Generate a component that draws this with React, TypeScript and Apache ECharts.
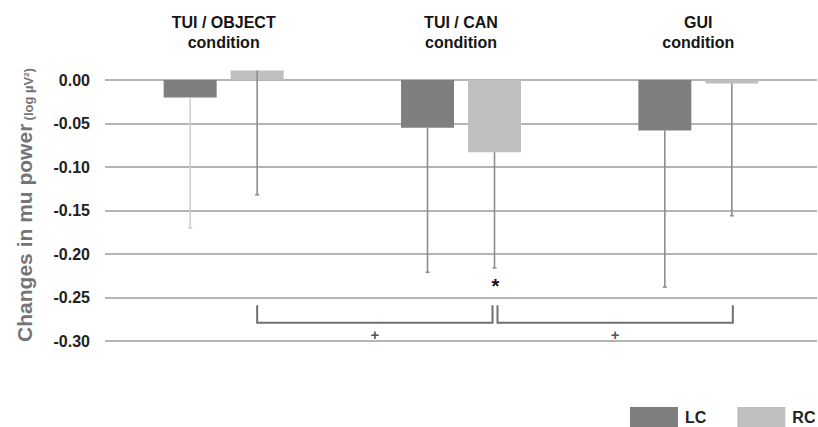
import React, { useEffect, useRef } from "react";
import * as echarts from "echarts";

const CATEGORIES = ["TUI / OBJECT\ncondition", "TUI / CAN\ncondition", "GUI\ncondition"];
const SERIES_NAMES = ["LC", "RC"];
const LC_MEAN = [-0.02, -0.055, -0.058];
const RC_MEAN = [0.011, -0.083, -0.004];
const LC_LOWER = [-0.17, -0.221, -0.238];
const RC_LOWER = [-0.132, -0.216, -0.156];
const Y_TICKS = { min: -0.3, max: 0, interval: 0.05 };
// comparisons between RC bars of categories
const BRACKETS = [
  [0, 1],
  [1, 2],
];
const BRACKET_LABELS = ["+", "+"];
const BRACKET_TOP = -0.259;
const BRACKET_BOTTOM = -0.279;
const BRACKET_LABEL_LEVEL = -0.292;
const STAR_MARKS = [[1, -0.233]]; // [category, level] over RC bar
const STAR_LABEL = "*";

const FONT = "'Liberation Sans', Arial, sans-serif";
const BAR_W = 53;
const BAR_GAP = 14;
const OFFSET = (BAR_W + BAR_GAP) / 2;

export default function App() {
  const ref = useRef<HTMLDivElement>(null);
  useEffect(() => {
    if (!ref.current) return;
    const chart = echarts.init(ref.current, undefined, { renderer: "svg" });

    const errSeries = (name: string, mean: number[], lower: number[], sign: number) => ({
      type: "custom",
      name: name + "_err",
      clip: false,
      z: 5,
      data: mean.map((m, i) => [i, m, lower[i]]),
      encode: { x: 0, y: [1, 2] },
      renderItem: (params: any, api: any) => {
        const c = api.value(0);
        const p1 = api.coord([c, api.value(1)]);
        const p2 = api.coord([c, api.value(2)]);
        const x = p1[0] + sign * OFFSET;
        const light = sign < 0 && params.dataIndex === 0;
        const stroke = light ? "#cfcfcf" : "#8e8e8e";
        return {
          type: "group",
          children: [
            { type: "line", shape: { x1: x, y1: p1[1], x2: x, y2: p2[1] }, style: { stroke, lineWidth: 1.6 } },
            { type: "line", shape: { x1: x - 2, y1: p2[1], x2: x + 2, y2: p2[1] }, style: { stroke, lineWidth: 1.6 } },
          ],
        };
      },
    });

    const option: any = {
      animation: false,
      grid: { left: 105, right: 1, top: 80, bottom: 86 },
      legend: {
        data: SERIES_NAMES,
        left: 630,
        top: 407,
        width: 200,
        padding: 0,
        itemWidth: 48,
        itemHeight: 20,
        itemGap: 31,
        icon: "rect",
        textStyle: { fontFamily: FONT, fontSize: 16, fontWeight: "bold", color: "#222", padding: [0, 0, 0, 2] },
      },
      xAxis: {
        type: "category",
        position: "top",
        data: CATEGORIES,
        axisLine: { show: false },
        axisTick: { show: false },
        axisLabel: {
          interval: 0,
          margin: 28,
          fontFamily: FONT,
          fontSize: 16,
          fontWeight: "bold",
          lineHeight: 20,
          color: "#151515",
        },
      },
      yAxis: {
        type: "value",
        min: Y_TICKS.min,
        max: Y_TICKS.max,
        interval: Y_TICKS.interval,
        axisLine: { show: false },
        axisTick: { show: false },
        splitLine: { lineStyle: { color: "#b4b4b4", width: 2 } },
        axisLabel: {
          margin: 15,
          fontFamily: FONT,
          fontSize: 16,
          fontWeight: "bold",
          color: "#222",
          formatter: (v: number) => v.toFixed(2),
        },
      },
      graphic: [
        {
          type: "text",
          x: 24,
          y: 205,
          rotation: Math.PI / 2,
          style: {
            text: "{a|Changes in mu power} {b|(log µV²)}",
            align: "center",
            verticalAlign: "middle",
            fill: "#747474",
            rich: {
              a: { fontFamily: FONT, fontSize: 21, fontWeight: "bold", fill: "#747474", color: "#747474", verticalAlign: "bottom", lineHeight: 22 },
              b: { fontFamily: FONT, fontSize: 13, fontWeight: "bold", fill: "#747474", color: "#747474", verticalAlign: "bottom", lineHeight: 22 },
            },
          },
        },
      ],
      series: [
        {
          type: "bar",
          name: "LC",
          data: LC_MEAN,
          barWidth: BAR_W,
          barGap: (BAR_GAP / BAR_W) * 100 + "%",
          clip: false,
          itemStyle: { color: "#7f7f7f" },
        },
        {
          type: "bar",
          name: "RC",
          data: RC_MEAN,
          barWidth: BAR_W,
          clip: false,
          itemStyle: { color: "#bfbfbf" },
        },
        errSeries("LC", LC_MEAN, LC_LOWER, -1),
        errSeries("RC", RC_MEAN, RC_LOWER, 1),
        {
          type: "custom",
          name: "brackets",
          clip: false,
          z: 6,
          data: BRACKETS.map((b, i) => [b[0], b[1], i]),
          renderItem: (params: any, api: any) => {
            const a = api.coord([api.value(0), BRACKET_TOP]);
            const b = api.coord([api.value(1), BRACKET_TOP]);
            const bot = api.coord([api.value(0), BRACKET_BOTTOM])[1];
            const lab = api.coord([api.value(0), BRACKET_LABEL_LEVEL])[1];
            const x1 = a[0] + OFFSET + 1;
            const x2 = b[0] + OFFSET - 2;
            const xa = params.dataIndex === 0 ? x1 - 1 : x1 + 2;
            const xb = params.dataIndex === 0 ? x2 : x2 + 3;
            return {
              type: "group",
              children: [
                {
                  type: "polyline",
                  shape: { points: [[xa, a[1]], [xa, bot], [xb, bot], [xb, a[1]]] },
                  style: { stroke: "#707070", lineWidth: 2, fill: null },
                },
                {
                  type: "text",
                  x: (xa + xb) / 2,
                  y: lab,
                  style: {
                    text: BRACKET_LABELS[api.value(2)],
                    align: "center",
                    verticalAlign: "middle",
                    fontFamily: FONT,
                    fontSize: 15,
                    fontWeight: "bold",
                    fill: "#555",
                  },
                },
              ],
            };
          },
        },
        {
          type: "custom",
          name: "stars",
          clip: false,
          z: 6,
          data: STAR_MARKS,
          renderItem: (params: any, api: any) => {
            const p = api.coord([api.value(0), api.value(1)]);
            return {
              type: "text",
              x: p[0] + OFFSET + 1,
              y: p[1] + 3,
              style: {
                text: STAR_LABEL,
                align: "center",
                verticalAlign: "middle",
                fontFamily: FONT,
                fontSize: 20,
                fontWeight: "bold",
                fill: "#111",
              },
            };
          },
        },
      ],
    };
    chart.setOption(option);
    return () => chart.dispose();
  }, []);
  return <div ref={ref} style={{ width: 818, height: 427, position: "absolute", left: 0, top: 0 }} />;
}
